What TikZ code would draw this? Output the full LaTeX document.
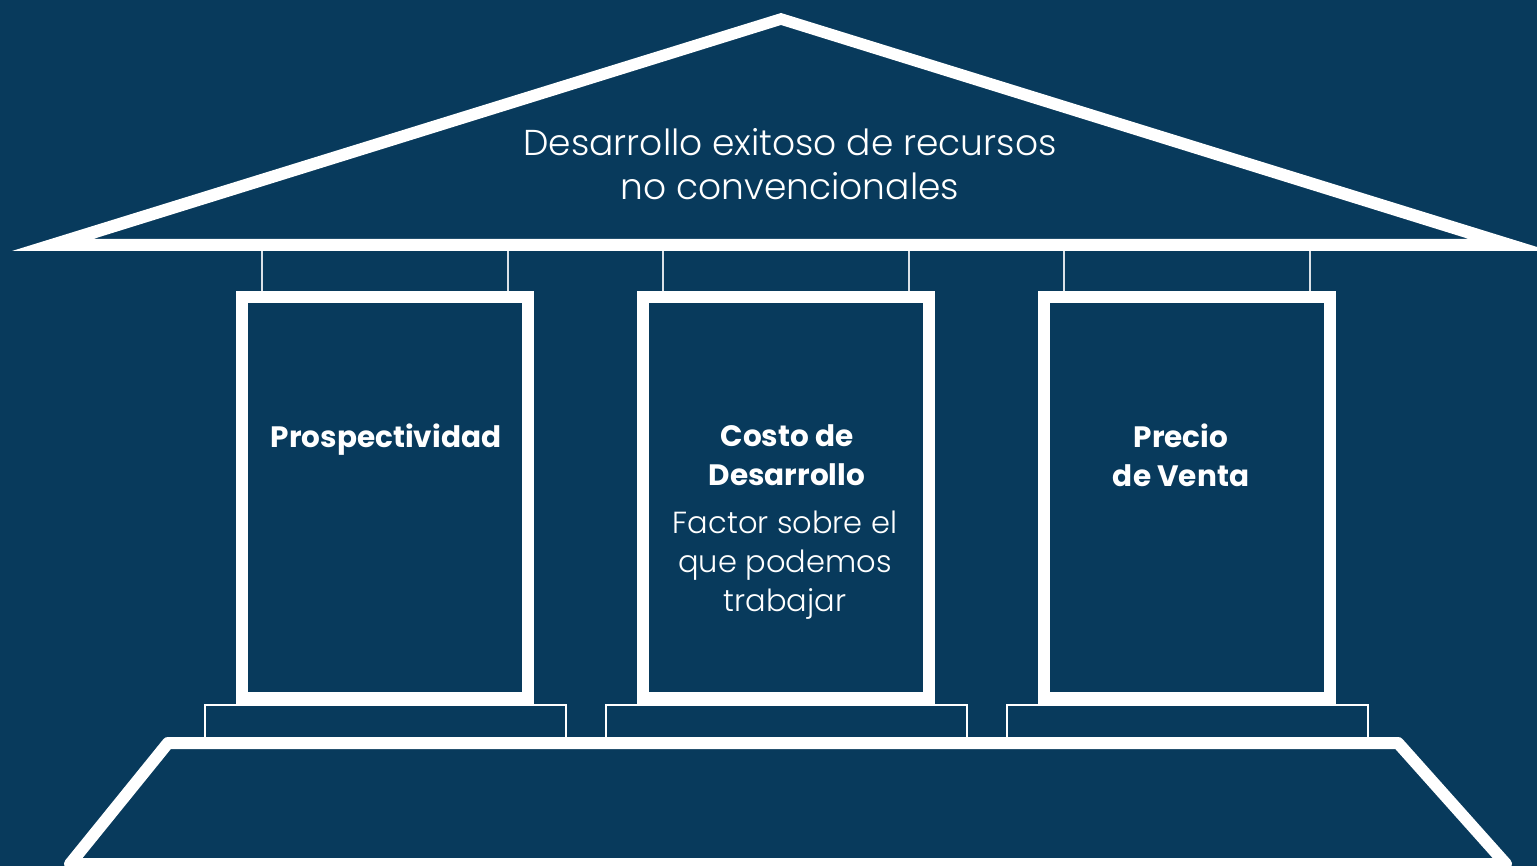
\documentclass[tikz,border=0pt]{standalone}
\usepackage{fontspec}
\setmainfont{Poppins}
\newfontfamily\lightfont{Poppins}[UprightFont=* Light]
\usepackage{xcolor}
\usepackage{tikz}
\usetikzlibrary{positioning}
\definecolor{navy}{RGB}{8,58,92}
\tikzstyle{pillar} = [rectangle, draw=white, line width=12pt, minimum width=286pt, minimum height=401pt, inner sep=0pt]
\tikzstyle{plinth} = [rectangle, draw=white, line width=2pt, minimum width=361pt, minimum height=35pt, inner sep=0pt]
\tikzstyle{tie} = [draw=white!85!navy, line width=2pt]
\tikzstyle{colTitle} = [text=white, align=center, inner sep=0pt, font=\bfseries\fontsize{29.5}{39}\selectfont]
\tikzstyle{colNote} = [text=white, align=center, inner sep=0pt, font=\lightfont\fontsize{30.5}{39}\selectfont]

\begin{document}
\begin{tikzpicture}[x=1pt,y=-1pt]
            \fill[navy] (0,0) rectangle (1537,866);
            \useasboundingbox (0,0) rectangle (1537,866);
            \clip (0,0) rectangle (1537,866);
            \coordinate (eave) at (781,245);
            % columns and plinths
            \node (p1) at (385,497.5) [pillar] {};
            \node (p2) [pillar, right of=p1, node distance=401pt] {};
            \node (p3) [pillar, right of=p2, node distance=401pt] {};
            \node (b1) [plinth, below=0pt of p1] {};
            \node (b2) [plinth, below=0pt of p2] {};
            \node (b3) [plinth, below=0pt of p3] {};
            \draw[tie] ([xshift=-123pt]p1.north) -- ([xshift=-123pt]p1.north |- eave);
            \draw[tie] ([xshift=123pt]p1.north) -- ([xshift=123pt]p1.north |- eave);
            \draw[tie] ([xshift=-123pt]p2.north) -- ([xshift=-123pt]p2.north |- eave);
            \draw[tie] ([xshift=123pt]p2.north) -- ([xshift=123pt]p2.north |- eave);
            \draw[tie] ([xshift=-123pt]p3.north) -- ([xshift=-123pt]p3.north |- eave);
            \draw[tie] ([xshift=123pt]p3.north) -- ([xshift=123pt]p3.north |- eave);
            % roof and base
            \fill[white, even odd rule] (12,251) -- (781,13) -- (1550,251) -- cycle (93,239) -- (781,25) -- (1469,239) -- cycle;
            \draw[white, line width=12pt, line join=round] (70,864) -- (168,743) -- (1398,743) -- (1506,864) -- cycle;
            % texts
            \node (roofText) at (790,128) [anchor=north, text=white, align=center, inner sep=0pt, font=\lightfont\fontsize{36}{44}\selectfont] {Desarrollo exitoso de recursos\\no convencionales};
            \node (t1) at (386,440) [colTitle] {Prospectividad};
            \node (t2) at (787,424) [colTitle, anchor=north] {Costo de\\Desarrollo};
            \node (n2) at (785,511) [colNote, anchor=north] {Factor sobre el\\que podemos\\trabajar};
            \node (t3) at (1181,424) [colTitle, anchor=north] {Precio\\de Venta};
\end{tikzpicture}
\end{document}
